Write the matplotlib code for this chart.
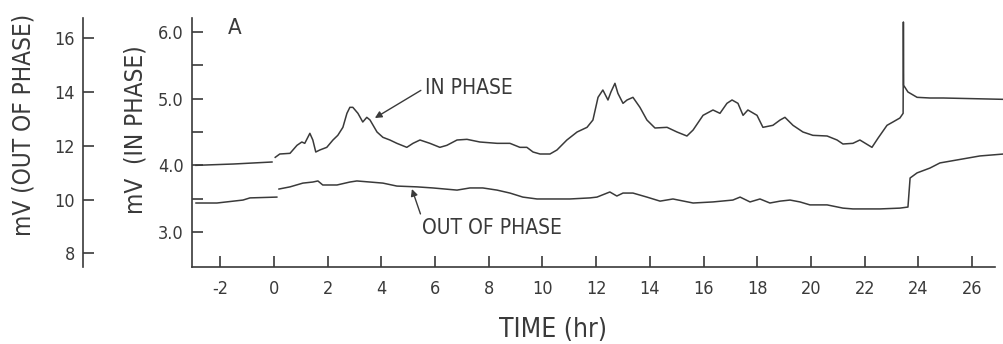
import matplotlib
matplotlib.use("Agg")
import matplotlib.pyplot as plt

plt.rcParams['font.family'] = ['DejaVu Sans']
plt.rcParams['font.stretch'] = 'condensed'

INK = '#3a3a3a'

# in-phase trace (mV), before the gap and after
in_t0 = [-2.9, -1.5, -0.07]
in_v0 = [4.00, 4.02, 4.05]
in_t = [0.05, 0.22, 0.60, 0.86, 1.04, 1.15, 1.34, 1.45, 1.56, 1.71, 1.97, 2.20, 2.38,
        2.57, 2.72, 2.83, 2.94, 3.13, 3.31, 3.46, 3.58, 3.84, 4.06, 4.32, 4.58, 4.95,
        5.18, 5.44, 5.81, 6.18, 6.44, 6.82, 7.19, 7.67, 8.31, 8.79, 9.16, 9.42, 9.65,
        9.91, 10.28, 10.54, 10.91, 11.29, 11.66, 11.88, 12.07, 12.25, 12.44, 12.55,
        12.70, 12.81, 13.00, 13.15, 13.37, 13.63, 13.89, 14.19, 14.64, 15.01, 15.38,
        15.61, 15.98, 16.35, 16.61, 16.87, 17.06, 17.28, 17.47, 17.65, 17.99, 18.21,
        18.58, 18.85, 19.03, 19.33, 19.70, 20.07, 20.60, 20.97, 21.19, 21.56, 21.82,
        22.27, 22.50, 22.83, 23.05, 23.31, 23.43, 23.44, 23.45, 23.61, 23.95, 24.43,
        24.92, 27.15]
in_v = [4.12, 4.17, 4.18, 4.30, 4.35, 4.33, 4.48, 4.38, 4.20, 4.23, 4.27, 4.38, 4.45,
        4.57, 4.78, 4.87, 4.87, 4.78, 4.65, 4.72, 4.68, 4.50, 4.42, 4.38, 4.33, 4.27,
        4.33, 4.38, 4.33, 4.27, 4.30, 4.38, 4.39, 4.35, 4.33, 4.33, 4.27, 4.27, 4.20,
        4.17, 4.17, 4.23, 4.38, 4.50, 4.57, 4.68, 5.02, 5.13, 4.98, 5.10,
        5.23, 5.08, 4.93, 4.98, 5.02, 4.87, 4.68, 4.56, 4.57, 4.50, 4.44,
        4.53, 4.75, 4.83, 4.78, 4.93, 4.98, 4.93, 4.75, 4.83, 4.75, 4.57,
        4.60, 4.68, 4.72, 4.60, 4.50, 4.45, 4.44, 4.38, 4.32, 4.33, 4.38,
        4.27, 4.41, 4.60, 4.65, 4.71, 4.78, 6.15, 5.20, 5.10, 5.02, 5.01,
        5.01, 4.99]

# out-of-phase trace (mV), before the gap and after
out_t0 = [-2.9, -2.12, -1.15, -0.89, 0.11]
out_v0 = [9.87, 9.87, 9.98, 10.06, 10.09]
out_t = [0.19, 0.60, 1.08, 1.45, 1.64, 1.82, 2.35, 2.83, 3.09, 3.58, 4.06, 4.58, 5.33,
         5.92, 6.82, 7.30, 7.78, 8.31, 8.79, 9.27, 9.80, 10.28, 11.02, 11.77, 12.03,
         12.51, 12.77, 13.00, 13.37, 13.89, 14.38, 14.86, 15.61, 16.35, 17.09, 17.36,
         17.73, 18.10, 18.47, 18.85, 19.22, 19.59, 19.96, 20.60, 21.19, 21.56, 22.57,
         23.31, 23.61, 23.69, 23.95, 24.43, 24.80, 25.66, 26.29, 27.15]
out_v = [10.39, 10.47, 10.61, 10.65, 10.69, 10.54, 10.54, 10.65, 10.69, 10.65, 10.61,
         10.50, 10.47, 10.43, 10.35, 10.43, 10.43, 10.35, 10.24, 10.09, 10.02, 10.02,
         10.02, 10.06, 10.09, 10.28, 10.13, 10.24, 10.24, 10.09, 9.94, 10.02, 9.87,
         9.91, 9.98, 10.09, 9.91, 10.02, 9.87, 9.94, 9.98, 9.91, 9.80, 9.80, 9.68,
         9.65, 9.65, 9.68, 9.72, 10.80, 10.99, 11.17, 11.36, 11.51, 11.62, 11.69]

x_ticks = list(range(-2, 27, 2))
in_ticks = [3.0, 4.0, 5.0, 6.0]
out_ticks = [8, 10, 12, 14, 16]

fig = plt.figure(figsize=(10.04, 3.44), dpi=100)
ax = fig.add_axes([0.1912, 0.2238, 0.7998, 0.7239])

for s in ['top', 'right']:
    ax.spines[s].set_visible(False)
for s in ['left', 'bottom']:
    ax.spines[s].set_color(INK)
    ax.spines[s].set_linewidth(1.2)

ax.plot(in_t0, in_v0, color=INK, lw=1.1, clip_on=False)
ax.plot(in_t, in_v, color=INK, lw=1.1, clip_on=False)

ax.set_xlim(-3.05, 26.85)
ax.set_ylim(2.475, 6.21)
ax.set_xticks(x_ticks)
ax.set_xticklabels([str(t) for t in x_ticks])
ax.set_yticks(in_ticks)
ax.set_yticklabels(['%.1f' % v for v in in_ticks])
ax.set_yticks([3.5, 4.5, 5.5], minor=True)
ax.tick_params(direction='in', length=8, width=1.2, color=INK, labelcolor=INK,
               labelsize=13)
ax.tick_params(axis='y', which='minor', direction='in', length=8, width=1.2, color=INK)
ax.tick_params(axis='x', pad=9)
ax.tick_params(axis='y', pad=6)
ax.set_xlabel('TIME (hr)', fontsize=19, color=INK)
ax.xaxis.set_label_coords(0.45, -0.2)
ax.set_ylabel('mV  (IN PHASE)', fontsize=17.5, color=INK)
ax.yaxis.set_label_coords(-0.055, 0.55)

# second scale on the left for the out-of-phase signal
ax2 = ax.twinx()
ax2.set_ylim(7.49, 16.75)
for s in ['top', 'right', 'bottom']:
    ax2.spines[s].set_visible(False)
ax2.spines['left'].set_visible(True)
ax2.spines['left'].set_position(('axes', -0.1357))
ax2.spines['left'].set_color(INK)
ax2.spines['left'].set_linewidth(1.2)
ax2.yaxis.set_ticks_position('left')
ax2.yaxis.set_label_position('left')
ax2.set_yticks(out_ticks)
ax2.set_yticklabels([str(v) for v in out_ticks])
ax2.tick_params(direction='in', length=8, width=1.2, color=INK, labelcolor=INK,
                labelsize=13, pad=6)
ax2.set_ylabel('mV (OUT OF PHASE)', fontsize=17.5, color=INK)
ax2.yaxis.set_label_coords(-0.195, 0.57)

ax2.plot(out_t0, out_v0, color=INK, lw=1.1, clip_on=False)
ax2.plot(out_t, out_v, color=INK, lw=1.1, clip_on=False)

ax.text(-1.45, 6.06, 'A', fontsize=16, color=INK, ha='center', va='center')

ax.annotate('IN PHASE', xy=(3.76, 4.71), xytext=(5.62, 5.16), fontsize=15,
            color=INK, ha='left', va='center',
            arrowprops=dict(arrowstyle='-|>', color=INK, lw=1.0,
                            mutation_scale=10, relpos=(0, 0.5), shrinkA=1, shrinkB=0))
ax.annotate('OUT OF PHASE', xy=(5.14, 3.645), xytext=(5.51, 3.06), fontsize=15,
            color=INK, ha='left', va='center',
            arrowprops=dict(arrowstyle='-|>', color=INK, lw=1.0,
                            mutation_scale=10, relpos=(0, 1), shrinkA=1, shrinkB=0))

fig.savefig('out.png', dpi=100, facecolor='white')
